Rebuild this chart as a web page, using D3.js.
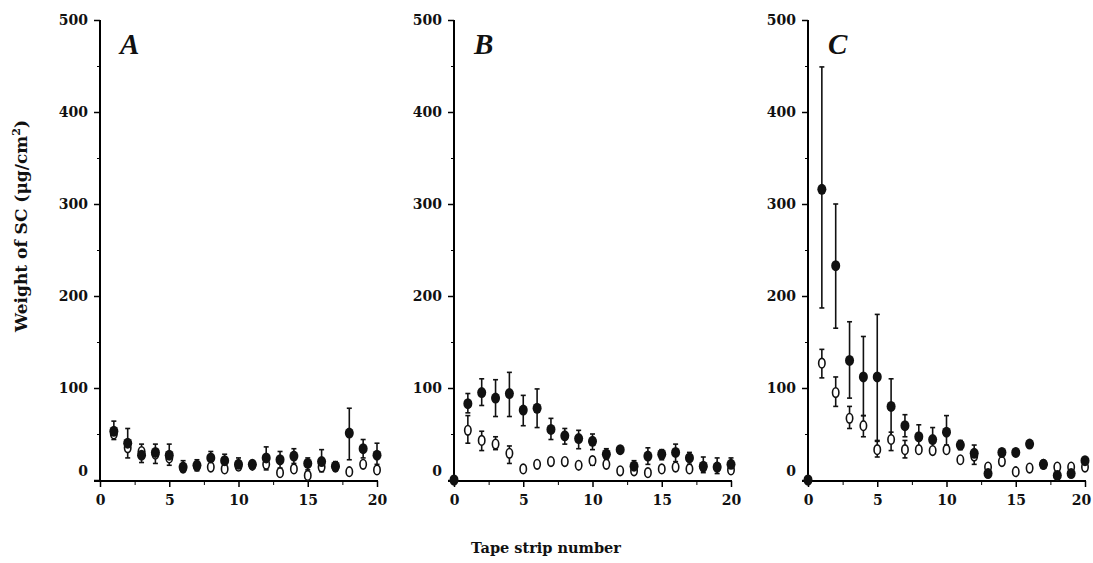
<!DOCTYPE html>
<html lang="en">
<head>
<meta charset="UTF-8">
<style>
  body { margin: 0; background: #fff; }
  text { font-family: "DejaVu Serif", serif; fill: #111; }
</style>
</head>
<body>
<script src="https://cdn.jsdelivr.net/npm/d3@7"></script>
<script>
// strip numbers
var stripsA = d3.range(1, 21);
var stripsBC = d3.range(0, 21);

// panel A (strips 1..20)
var aFilled   = [53, 40, 27, 30, 27, 14, 16, 24, 21, 17, 17, 24, 22, 26, 18, 20, 15, 51, 34, 27];
var aFilledHi = [64, 56, 39, 39, 39, 21, 22, 31, 28, 24, 21, 36, 31, 34, 24, 33, 20, 78, 44, 40];
var aFilledLo = [44, 24, 19, 18, 16, 9, 10, 17, 14, 11, 13, 11, 13, 18, 11, 9, 10, 22, 24, 17];
var aOpen     = [50, 35, 31, 28, 24, 13, 15, 14, 12, 15, 16, 17, 8, 12, 5, 14, 14, 9, 17, 11];

// panel B (strips 0..20)
var bFilled   = [0, 83, 95, 89, 94, 76, 78, 55, 48, 45, 42, 28, 33, 15, 26, 28, 30, 24, 15, 14, 17];
var bFilledHi = [null, 94, 110, 109, 117, 92, 99, 67, 56, 54, 50, 34, null, 21, 35, 33, 39, 30, 25, 24, 24];
var bFilledLo = [null, 73, 81, 69, 69, 59, 57, 44, 39, 34, 33, 22, null, 10, 17, 22, 20, 17, 8, 7, 10];
var bOpen     = [0, 54, 43, 39, 29, 12, 17, 20, 20, 16, 21, 17, 10, 10, 8, 12, 14, 12, 14, 14, 11];
var bOpenHi   = [null, 70, 53, 47, 37, null, null, null, null, null, 25, null, null, null, null, null, null, null, null, null, null];
var bOpenLo   = [null, 40, 32, 33, 18, null, null, null, null, null, 16, null, null, null, null, null, null, null, null, null, null];

// panel C (strips 0..20)
var cFilled   = [0, 316, 233, 130, 112, 112, 80, 59, 47, 44, 52, 38, 29, 7, 30, 30, 39, 17, 5, 7, 21];
var cFilledHi = [null, 449, 300, 172, 156, 180, 110, 71, 60, 57, 70, 43, 38, null, null, null, null, null, null, null, null];
var cFilledLo = [null, 187, 165, 89, 70, 43, 47, 47, 36, 33, 38, 33, 17, null, null, null, null, null, null, null, null];
var cOpen     = [0, 127, 95, 67, 59, 33, 44, 33, 33, 32, 33, 22, 26, 14, 20, 9, 13, 17, 14, 14, 14];
var cOpenHi   = [null, 142, 112, 80, 70, 42, 52, 43, null, null, null, null, null, null, null, null, null, null, null, null, null];
var cOpenLo   = [null, 111, 80, 56, 47, 25, 32, 24, 24, 23, 25, null, null, null, null, null, null, null, null, null, null];

var yTicks = [0, 100, 200, 300, 400, 500];
var xTicks = [0, 5, 10, 15, 20];

var svg = d3.select("body").append("svg")
    .attr("width", 1093)
    .attr("height", 563);

var y = d3.scaleLinear().domain([0, 500]).range([480, 20]);

var panels = [
  { name: "A", x0: 100, strips: stripsA, filled: aFilled, fHi: aFilledHi, fLo: aFilledLo, open: aOpen, oHi: null, oLo: null },
  { name: "B", x0: 454, strips: stripsBC, filled: bFilled, fHi: bFilledHi, fLo: bFilledLo, open: bOpen, oHi: bOpenHi, oLo: bOpenLo },
  { name: "C", x0: 808, strips: stripsBC, filled: cFilled, fHi: cFilledHi, fLo: cFilledLo, open: cOpen, oHi: cOpenHi, oLo: cOpenLo }
];

panels.forEach(function(p, pi) {
  var x = d3.scaleLinear().domain([0, 20]).range([p.x0, p.x0 + 277]);
  var g = svg.append("g");

  // y axis
  var yAxis = d3.axisLeft(y).tickValues(yTicks).tickSize(6).tickPadding(6);
  var ya = g.append("g").attr("transform", "translate(" + p.x0 + ",0)").call(yAxis);
  ya.select(".domain").attr("d", "M0," + y(0) + "V" + y(500)).attr("stroke-width", 2);
  ya.selectAll(".tick line").attr("stroke-width", 1.5);
  ya.selectAll(".tick text")
    .style("font-size", "14px").style("font-weight", "bold")
    .attr("dy", function(d) { return d === 0 ? "-0.3em" : "0.32em"; });
  g.append("g").attr("transform", "translate(" + p.x0 + ",0)")
    .call(d3.axisLeft(y).tickValues(d3.range(50, 500, 100)).tickSize(3).tickFormat(""))
    .select(".domain").remove();

  // x axis
  var xAxis = d3.axisBottom(x).tickValues(xTicks).tickSize(6).tickPadding(8);
  var xa = g.append("g").attr("transform", "translate(0," + (y(0) + 1) + ")").call(xAxis);
  xa.select(".domain").attr("d", "M" + (x(0) - 6) + ",0H" + (x(20) + 1)).attr("stroke-width", 2);
  xa.selectAll(".tick line").attr("stroke-width", 1.5);
  xa.selectAll(".tick text").style("font-size", "14px").style("font-weight", "bold")
    .attr("dx", function(d) { return (pi === 2 && d === 20) ? -4 : 0; });
  g.append("g").attr("transform", "translate(0," + (y(0) + 1) + ")")
    .call(d3.axisBottom(x).tickValues([2.5, 7.5, 12.5, 17.5]).tickSize(4).tickFormat(""))
    .select(".domain").remove();

  // panel letter
  g.append("text")
    .attr("x", p.x0 + 20).attr("y", 54)
    .style("font-family", "'Liberation Serif', serif")
    .style("font-style", "italic").style("font-weight", "bold")
    .style("font-size", "29px")
    .text(p.name);

  function errorBars(hi, lo) {
    if (!hi) return;
    var rows = p.strips.map(function(s, i) { return { s: s, hi: hi[i], lo: lo[i] }; })
      .filter(function(d) { return d.hi != null; });
    var eb = g.append("g").attr("stroke", "#111").attr("fill", "none").attr("stroke-width", 1.6);
    eb.selectAll(".stem").data(rows).join("line")
      .attr("x1", function(d) { return x(d.s); }).attr("x2", function(d) { return x(d.s); })
      .attr("y1", function(d) { return y(d.hi); }).attr("y2", function(d) { return y(d.lo); });
    eb.selectAll(".capT").data(rows).join("line")
      .attr("x1", function(d) { return x(d.s) - 2.5; }).attr("x2", function(d) { return x(d.s) + 2.5; })
      .attr("y1", function(d) { return y(d.hi); }).attr("y2", function(d) { return y(d.hi); });
    eb.selectAll(".capB").data(rows).join("line")
      .attr("x1", function(d) { return x(d.s) - 2.5; }).attr("x2", function(d) { return x(d.s) + 2.5; })
      .attr("y1", function(d) { return y(d.lo); }).attr("y2", function(d) { return y(d.lo); });
  }

  errorBars(p.oHi, p.oLo);
  errorBars(p.fHi, p.fLo);

  // open markers
  g.selectAll(".open").data(p.open).join("ellipse")
    .attr("cx", function(d, i) { return x(p.strips[i]); })
    .attr("cy", function(d) { return y(d); })
    .attr("rx", 3.2).attr("ry", 4.8)
    .attr("fill", "#fff").attr("stroke", "#111").attr("stroke-width", 1.6);

  // filled markers
  g.selectAll(".filled").data(p.filled).join("ellipse")
    .attr("cx", function(d, i) { return x(p.strips[i]); })
    .attr("cy", function(d) { return y(d); })
    .attr("rx", 4.5).attr("ry", 5.5)
    .attr("fill", "#111");
});

// axis titles
svg.append("text")
  .attr("transform", "translate(27,226) rotate(-90)")
  .attr("text-anchor", "middle")
  .style("font-size", "17px").style("font-weight", "bold")
  .html("Weight of SC (&#956;g/cm<tspan dy='-7' font-size='11px'>2</tspan><tspan dy='7'>)</tspan>");

svg.append("text")
  .attr("x", 546).attr("y", 553)
  .attr("text-anchor", "middle")
  .style("font-size", "14.5px").style("font-weight", "bold")
  .text("Tape strip number");
</script>
</body>
</html>
